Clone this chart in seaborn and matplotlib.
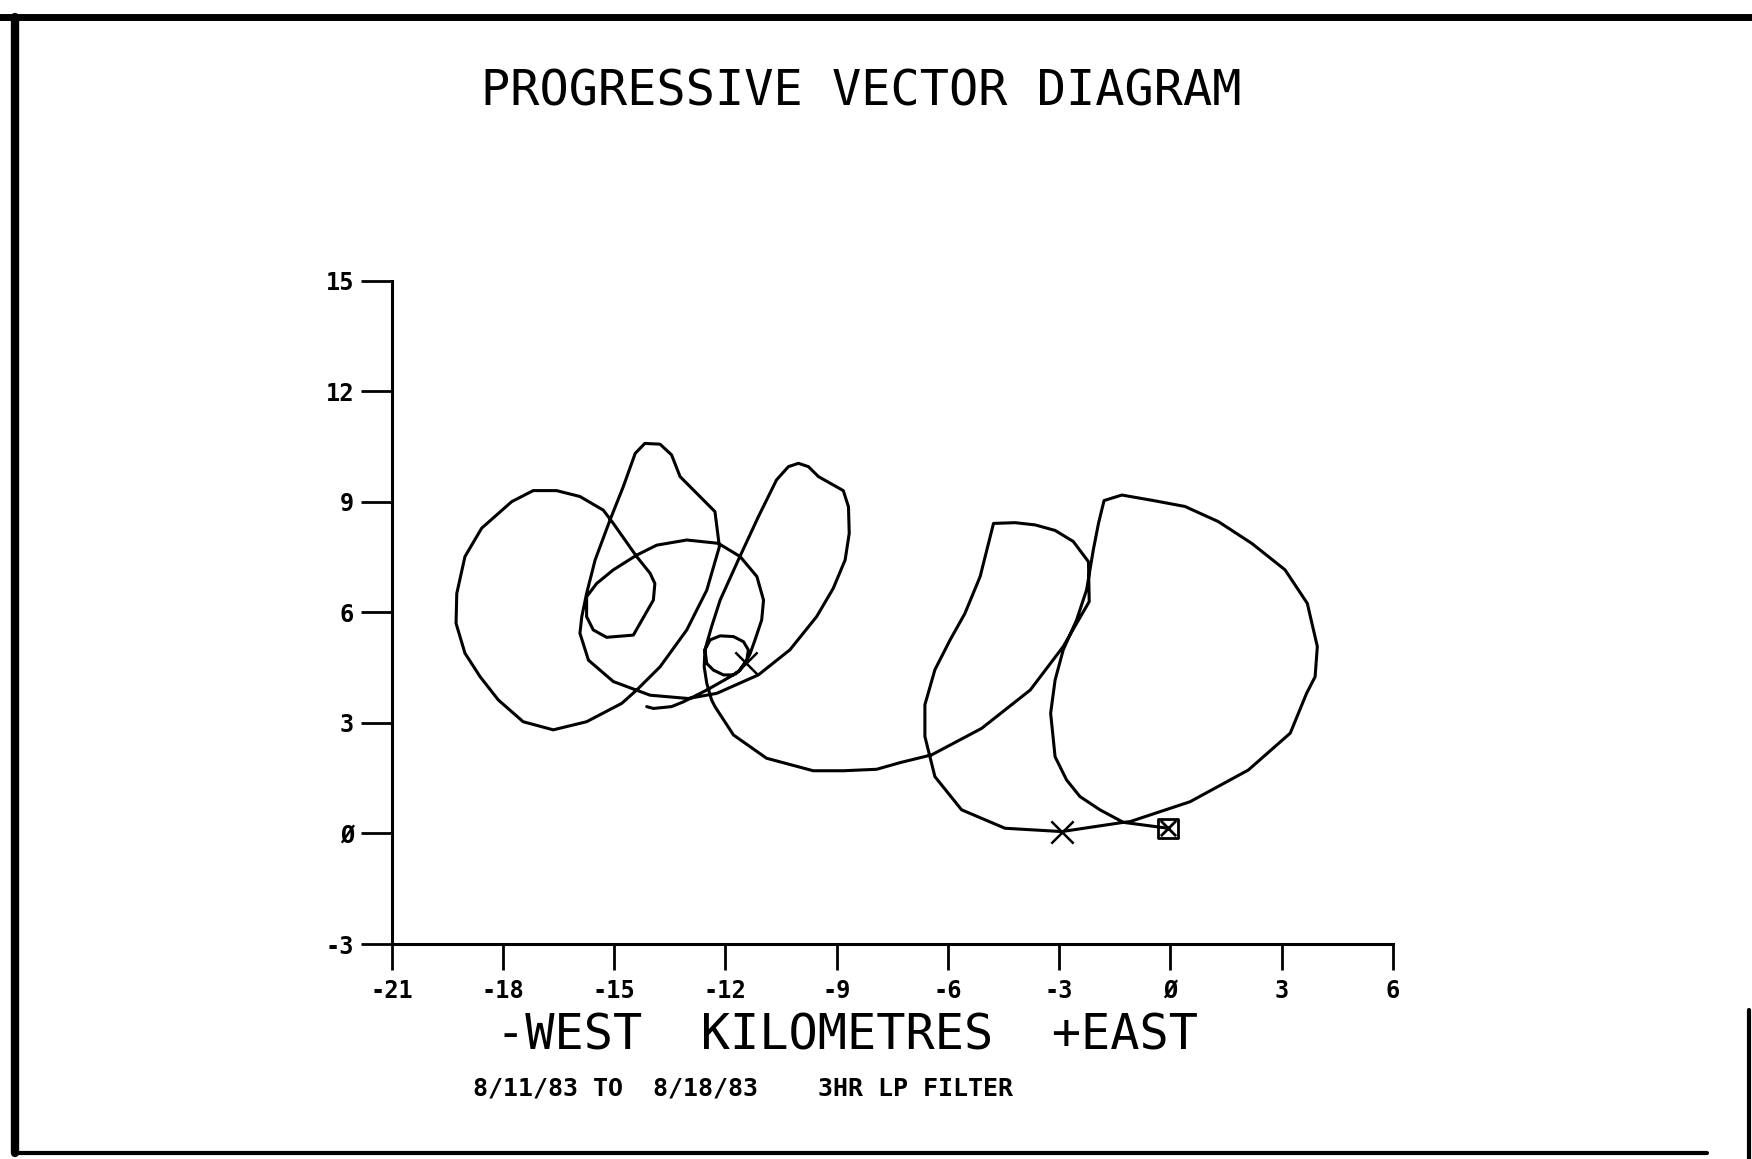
import numpy as np
import pandas as pd
import matplotlib
matplotlib.use('Agg')
from matplotlib import pyplot as plt
from matplotlib.lines import Line2D
import seaborn as sns

# Progressive vector path, km east / km north of the mooring, in time order
# leg a: start at mooring, loop round the east side
leg_a_east = [-0.06, -1.27, -1.90, -2.44, -2.80, -3.11, -3.23, -3.11, -2.89, -2.53,
              -2.26, -2.08, -1.94, -1.79, -1.31, -0.46, 0.39, 1.29, 2.19, 3.09,
              3.69, 3.96, 3.90, 3.67, 3.23, 2.10, 0.53, -1.09, -1.27]
leg_a_north = [0.14, 0.30, 0.64, 1.00, 1.45, 2.08, 3.26, 4.16, 4.98, 5.79,
               6.61, 7.69, 8.41, 9.03, 9.18, 9.03, 8.87, 8.46, 7.87, 7.15,
               6.24, 5.07, 4.25, 3.80, 2.72, 1.72, 0.86, 0.32, 0.30]

# leg b: west past the cross, middle lobe, long southern arc
leg_b_east = [-2.93, -4.46, -5.63, -6.35, -6.62, -6.62, -6.35, -5.94, -5.54, -5.13,
              -4.77, -4.19, -3.65, -3.11, -2.62, -2.21, -2.19, -2.89, -3.78, -5.09,
              -6.44, -7.29, -7.92, -8.82, -9.63, -10.89, -11.78, -12.28]
leg_b_north = [0.05, 0.14, 0.64, 1.54, 2.63, 3.49, 4.44, 5.25, 5.97, 6.97,
               8.41, 8.43, 8.37, 8.22, 7.92, 7.37, 6.29, 5.07, 3.89, 2.85,
               2.13, 1.92, 1.74, 1.70, 1.70, 2.04, 2.67, 3.44]

# leg c: narrow northern loop, then back west
leg_c_east = [-12.37, -12.50, -12.57, -12.55, -12.46, -12.37, -12.14, -11.65, -11.11, -10.62,
              -10.30, -10.03, -9.76, -9.49, -8.82, -8.68, -8.66, -8.77, -9.09, -9.54,
              -10.26, -11.11, -12.23, -13.00, -14.03, -15.02, -15.69]
leg_c_north = [3.62, 4.07, 4.52, 4.98, 5.29, 5.61, 6.33, 7.42, 8.59, 9.59,
               9.95, 10.04, 9.95, 9.68, 9.30, 8.86, 8.14, 7.42, 6.65, 5.88,
               4.98, 4.30, 3.80, 3.66, 3.75, 4.12, 4.70]

# leg d: pear shaped loop and the big western circle
leg_d_east = [-15.92, -15.87, -15.74, -15.51, -15.11, -14.75, -14.43, -14.17, -13.76, -13.45,
              -13.22, -12.28, -12.16, -12.50, -13.04, -13.76, -14.39, -14.79, -15.74, -16.64,
              -17.45, -18.12, -18.61, -19.02, -19.26, -19.24, -19.02, -18.57, -17.76, -17.18,
              -16.55, -15.92, -15.29, -15.02]
leg_d_north = [5.43, 5.88, 6.51, 7.42, 8.50, 9.41, 10.31, 10.58, 10.56, 10.27,
               9.68, 8.73, 7.78, 6.60, 5.52, 4.52, 3.89, 3.53, 3.03, 2.81,
               3.03, 3.62, 4.25, 4.89, 5.70, 6.51, 7.51, 8.28, 9.00, 9.30,
               9.30, 9.14, 8.77, 8.41]

# leg e: small hexagon, ellipse, tiny loop and tail
leg_e_east = [-14.39, -14.03, -13.90, -13.94, -14.48, -15.20, -15.56, -15.74, -15.74, -15.47,
              -15.02, -14.39, -13.85, -13.04, -12.19, -11.60, -11.15, -10.97, -11.02, -11.20,
              -11.33, -11.42, -11.60, -11.78, -12.05, -12.32, -12.50, -12.55, -12.41, -12.14,
              -11.78, -11.51, -11.38, -11.42, -11.65, -11.87, -12.50, -13.13, -13.45, -13.94,
              -14.12]
leg_e_north = [7.51, 7.06, 6.78, 6.33, 5.38, 5.32, 5.52, 5.88, 6.42, 6.78,
               7.15, 7.55, 7.82, 7.96, 7.87, 7.51, 6.97, 6.33, 5.79, 5.25,
               4.88, 4.70, 4.43, 4.30, 4.30, 4.43, 4.61, 4.98, 5.25, 5.36,
               5.34, 5.20, 4.98, 4.70, 4.39, 4.25, 3.89, 3.57, 3.44, 3.39,
               3.44]

# symbols
cross_east = [-2.93, -11.43]
cross_north = [0.05, 4.61]
start_east = [-0.06]
start_north = [0.14]

x_ticks = [-21, -18, -15, -12, -9, -6, -3, 0, 3, 6]
x_tick_labels = ['-21', '-18', '-15', '-12', '-9', '-6', '-3', 'Ø', '3', '6']
y_ticks = [-3, 0, 3, 6, 9, 12, 15]
y_tick_labels = ['-3', 'Ø', '3', '6', '9', '12', '15']

title = 'PROGRESSIVE VECTOR DIAGRAM'
x_label = '-WEST  KILOMETRES  +EAST'
subtitle = '8/11/83 TO  8/18/83    3HR LP FILTER'

# Build the path table
east = leg_a_east + leg_b_east + leg_c_east + leg_d_east + leg_e_east
north = leg_a_north + leg_b_north + leg_c_north + leg_d_north + leg_e_north
path = pd.DataFrame({'east': east, 'north': north})

sns.set_style('ticks')
plt.rcParams['font.family'] = ['DejaVu Sans Mono', 'DejaVu Sans']
plt.rcParams['text.color'] = 'black'
plt.rcParams['axes.labelcolor'] = 'black'
plt.rcParams['axes.edgecolor'] = 'black'
plt.rcParams['xtick.color'] = 'black'
plt.rcParams['ytick.color'] = 'black'

W, H = 1752, 1159
fig = plt.figure(figsize=(W / 100, H / 100), dpi=100)
ax = fig.add_axes([391.5 / W, 1 - 944 / H, (1393 - 391.5) / W, (944 - 280.5) / H])

sns.lineplot(data=path, x='east', y='north', sort=False, estimator=None,
             color='black', linewidth=2.2, ax=ax)

sns.scatterplot(x=cross_east, y=cross_north, marker='x', s=16 ** 2,
                color='black', linewidth=1.8, ax=ax, zorder=3)
ax.scatter(start_east, start_north, marker='s', s=14 ** 2, facecolors='none',
           edgecolors='black', linewidths=2.0, zorder=3)
ax.scatter(start_east, start_north, marker='x', s=11 ** 2, color='black',
           linewidths=2.0, zorder=3)

ax.set_xlim(-21, 6)
ax.set_ylim(-3, 15)
ax.set_xticks(x_ticks)
ax.set_xticklabels(x_tick_labels, fontsize=17, fontweight='bold')
ax.set_yticks(y_ticks)
ax.set_yticklabels(y_tick_labels, fontsize=17, fontweight='bold')
ax.tick_params(axis='x', direction='out', length=19, width=2, pad=6)
ax.tick_params(axis='y', direction='out', length=22, width=2, pad=5)
sns.despine(ax=ax)
for side in ['left', 'bottom']:
    ax.spines[side].set_linewidth(2.2)

ax.set_ylabel('')
ax.set_xlabel(x_label, fontsize=35, va='center')
ax.xaxis.set_label_coords((847 - 391.5) / (1393 - 391.5), -(1036 - 944) / (944 - 280.5))

fig.text(861 / W, 1 - 92 / H, title, ha='center', va='center', fontsize=35)
fig.text(743 / W, 1 - 1089 / H, subtitle, ha='center', va='center',
         fontsize=18, fontweight='bold')

# plotter frame round the sheet
fig.add_artist(Line2D([0, 1], [1 - 17 / H, 1 - 17 / H], transform=fig.transFigure,
                      color='black', lw=5))
fig.add_artist(Line2D([15 / W, 15 / W], [6 / H, 1 - 17 / H], transform=fig.transFigure,
                      color='black', lw=6))
fig.add_artist(Line2D([15 / W, 1707 / W], [6 / H, 6 / H], transform=fig.transFigure,
                      color='black', lw=3))
fig.add_artist(Line2D([1749 / W, 1749 / W], [0, 1 - 1010 / H], transform=fig.transFigure,
                      color='black', lw=3))

fig.savefig('out.png', dpi=100)
